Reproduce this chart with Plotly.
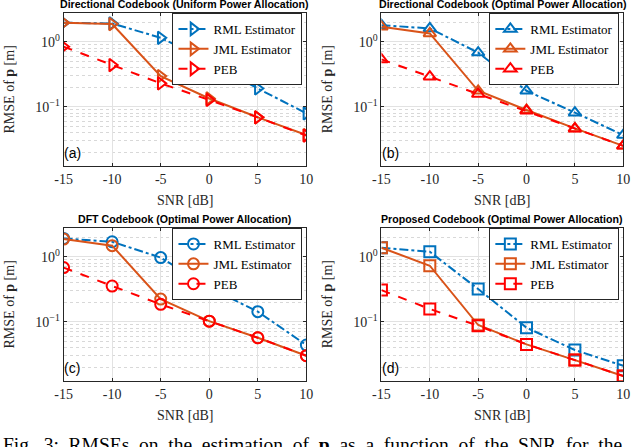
import plotly.graph_objects as go

W, H = 640, 447

snr = [-15, -10, -5, 0, 5, 10]

# panel (a) directional codebook, uniform power
rml_a = [1.96, 1.91, 1.15, 0.49, 0.191, 0.079]
jml_a = [1.96, 1.87, 0.296, 0.134, 0.0686, 0.0367]
peb_a = [0.84, 0.438, 0.229, 0.127, 0.0686, 0.036]

# panel (b) directional codebook, optimal power
rml_b = [1.80, 1.60, 0.68, 0.176, 0.081, 0.0367]
jml_b = [1.70, 1.34, 0.176, 0.089, 0.0464, 0.025]
peb_b = [0.535, 0.29, 0.157, 0.0868, 0.046, 0.025]

# panel (c) DFT codebook
rml_c = [1.91, 1.70, 0.97, 0.333, 0.143, 0.0438]
jml_c = [1.87, 1.48, 0.223, 0.102, 0.0567, 0.030]
peb_c = [0.68, 0.354, 0.185, 0.102, 0.0567, 0.030]

# panel (d) proposed codebook
rml_d = [1.375, 1.19, 0.318, 0.081, 0.0367, 0.021]
jml_d = [1.375, 0.727, 0.089, 0.0448, 0.0257, 0.0146]
peb_d = [0.307, 0.157, 0.0868, 0.0448, 0.0257, 0.0146]

titles = [
    "Directional Codebook (Uniform Power Allocation)",
    "Directional Codebook (Optimal Power Allocation)",
    "DFT Codebook (Optimal Power Allocation)",
    "Proposed Codebook (Optimal Power Allocation)",
]
labels = ["(a)", "(b)", "(c)", "(d)"]
names = ["RML Estimator", "JML Estimator", "PEB"]
xticks = [-15, -10, -5, 0, 5, 10]
ytick_vals = [0.1, 1]
ytick_text = ["10<sup>−1</sup>", "10<sup>0</sup>"]

panels = [
    (rml_a, jml_a, peb_a, "triangle-right-open"),
    (rml_b, jml_b, peb_b, "triangle-up-open"),
    (rml_c, jml_c, peb_c, "circle-open"),
    (rml_d, jml_d, peb_d, "square-open"),
]

# pixel boxes of the plot areas: left, right, top, bottom
boxes = [
    (56, 305, 13, 166),
    (382, 630, 13, 166),
    (56, 305, 228, 381),
    (382, 630, 228, 381),
]

colors = ["#0072BD", "#D95319", "#FF0000"]
dashes = ["dashdot", "solid", "dash"]
serif = "Liberation Serif"
sans = "Liberation Sans"
axcol = "#262626"

def px(x):
    return x / W

def py(y):
    return 1 - y / H

fig = go.Figure()
annotations = []

for i, (rml, jml, peb, sym) in enumerate(panels):
    n = i + 1
    xa = "x" if n == 1 else f"x{n}"
    ya = "y" if n == 1 else f"y{n}"
    lg = "legend" if n == 1 else f"legend{n}"
    for s, yv in enumerate([rml, jml, peb]):
        fig.add_trace(go.Scatter(
            x=snr, y=yv, name=names[s], mode="lines+markers",
            line=dict(color=colors[s], width=2, dash=dashes[s]),
            marker=dict(symbol=sym, size=11, color=colors[s],
                        line=dict(width=2, color=colors[s])),
            xaxis=xa, yaxis=ya, legend=lg,
        ))

    l, r, t, b = boxes[i]
    xkey = "xaxis" if n == 1 else f"xaxis{n}"
    ykey = "yaxis" if n == 1 else f"yaxis{n}"
    fig.update_layout({
        xkey: dict(
            domain=[px(l), px(r)], anchor=ya, range=[-15, 10],
            tickvals=xticks, ticktext=[str(v) for v in xticks],
            ticks="inside", ticklen=3, tickcolor=axcol,
            showline=True, linecolor=axcol, linewidth=1, mirror="ticks",
            showgrid=True, gridcolor="#e2e2e2", gridwidth=1,
            zeroline=False,
            tickfont=dict(family=serif, size=14, color=axcol),
        ),
        ykey: dict(
            domain=[py(b), py(t)], anchor=xa, type="log",
            range=[-1.912, 0.442],
            tickvals=ytick_vals, ticktext=ytick_text,
            ticks="inside", ticklen=3, tickcolor=axcol,
            showline=True, linecolor=axcol, linewidth=1, mirror="ticks",
            showgrid=True, gridcolor="#e2e2e2", gridwidth=1,
            minor=dict(showgrid=True, gridcolor="#d8d8d8", griddash="dot",
                       dtick="D1", ticks=""),
            zeroline=False,
            tickfont=dict(family=serif, size=14, color=axcol),
        ),
        lg: dict(
            x=px(r - 4), y=py(t), xanchor="right", yanchor="top",
            bgcolor="white", bordercolor=axcol, borderwidth=1,
            font=dict(family=serif, size=13, color="black"),
            itemwidth=30, tracegroupgap=0,
        ),
    })

    cx = px((l + r) / 2)
    annotations.append(dict(
        text=f"<b>{titles[i]}</b>", x=cx, y=py(t - 9), xref="paper", yref="paper",
        showarrow=False, xanchor="center", yanchor="middle",
        font=dict(family=sans, size=10.6, color="black"),
    ))
    annotations.append(dict(
        text="SNR [dB]", x=cx, y=py(b + 34), xref="paper", yref="paper",
        showarrow=False, xanchor="center", yanchor="middle",
        font=dict(family=serif, size=14, color=axcol),
    ))
    annotations.append(dict(
        text="RMSE of <b>p</b> [m]", x=px(l - 55), y=py((t + b) / 2),
        xref="paper", yref="paper", textangle=-90,
        showarrow=False, xanchor="center", yanchor="middle",
        font=dict(family=serif, size=14, color=axcol),
    ))
    annotations.append(dict(
        text=labels[i], x=px(l - 2), y=py(b - 13), xref="paper", yref="paper",
        showarrow=False, xanchor="left", yanchor="middle",
        font=dict(family=sans, size=14, color="black"),
    ))

annotations.append(dict(
    text="Fig.  3:  RMSEs  on  the  estimation  of  <b>p</b>  as  a  function  of  the  SNR  for  the",
    x=px(-8), y=py(432), xref="paper", yref="paper", showarrow=False,
    xanchor="left", yanchor="top",
    font=dict(family=serif, size=19.5, color="black"),
))

fig.update_layout(
    width=W, height=H,
    margin=dict(l=0, r=0, t=0, b=0),
    plot_bgcolor="white", paper_bgcolor="white",
    annotations=annotations,
)

# drop the default 8px body margin so the figure sits at the page origin
fig.write_html("out.html", config={"displayModeBar": False},
               post_script="document.body.style.margin='0px';")
